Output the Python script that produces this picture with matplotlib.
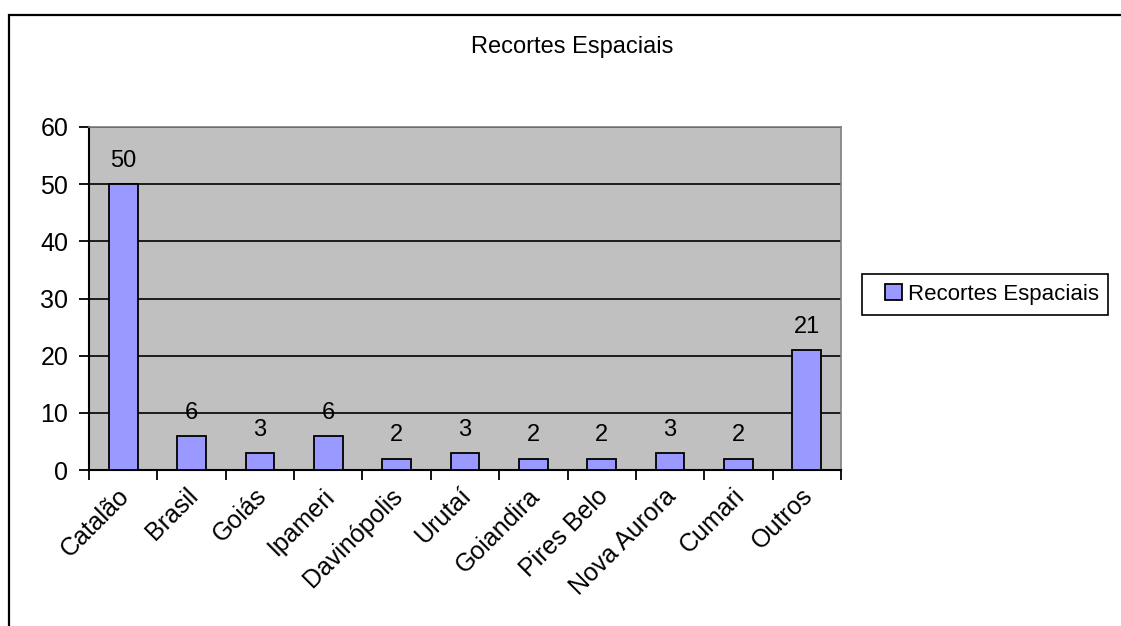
import matplotlib.pyplot as plt
import matplotlib.transforms as mtransforms
from matplotlib.patches import Rectangle

plt.rcParams['font.family'] = ['Liberation Sans', 'DejaVu Sans']

# data
categories = ['Catalão', 'Brasil', 'Goiás', 'Ipameri', 'Davinópolis', 'Urutaí',
              'Goiandira', 'Pires Belo', 'Nova Aurora', 'Cumari', 'Outros']
counts = [50, 6, 3, 6, 2, 3, 2, 2, 3, 2, 21]
yticks = [0, 10, 20, 30, 40, 50, 60]
series_name = 'Recortes Espaciais'

W, H = 1121, 626
fig = plt.figure(figsize=(W / 100, H / 100), dpi=100)

# outer chart border (runs off the right and bottom edge)
fig.patches.append(Rectangle((9 / W, -0.05), 1.2, 1 - 15 / H + 0.05,
                             transform=fig.transFigure, fill=False,
                             edgecolor='black', linewidth=1.6))

# plot area in pixels: x 89..841, y 127..470
ax = fig.add_axes([89 / W, 1 - 470 / H, (841 - 89) / W, (470 - 127) / H])
ax.set_facecolor('#C0C0C0')

xs = list(range(len(categories)))
bars = ax.bar(xs, counts, width=0.42, color='#9999FF', edgecolor='black',
              linewidth=1.3, label=series_name, zorder=3)
for x, v in zip(xs, counts):
    ax.text(x, v + 3.0, str(v), ha='center', va='baseline', fontsize=17,
            zorder=4)

ax.set_xlim(-0.5, len(categories) - 0.5)
ax.set_ylim(0, 60)
ax.set_yticks(yticks)
ax.set_yticklabels([str(t) for t in yticks], fontsize=18)
ax.yaxis.grid(True, color='black', linewidth=1.2, zorder=1)
ax.set_axisbelow(True)

# category ticks sit between bars
ax.set_xticks([x - 0.5 for x in xs] + [len(categories) - 0.5])
ax.set_xticklabels([])
ax.set_xticks(xs, minor=True)
ax.set_xticklabels(categories, minor=True, rotation=45, ha='right',
                   rotation_mode='anchor', fontsize=18)
ax.tick_params(axis='x', which='minor', length=0, pad=10)
ax.tick_params(axis='both', which='major', direction='out', length=7,
               width=1.3, color='black')
ax.tick_params(axis='y', which='major', pad=8)
shift = mtransforms.ScaledTranslation(-6 / 100, 0, fig.dpi_scale_trans)
for lbl in ax.get_xticklabels(minor=True):
    lbl.set_transform(lbl.get_transform() + shift)

ax.spines['left'].set_linewidth(1.5)
ax.spines['bottom'].set_linewidth(1.5)
ax.spines['top'].set_color('#808080')
ax.spines['right'].set_color('#808080')
ax.spines['top'].set_linewidth(1.2)
ax.spines['right'].set_linewidth(1.2)

fig.text(572 / W, 1 - 47 / H, series_name, ha='center', va='center',
         fontsize=17)

# legend: frame drawn separately to match the wide box
fig.patches.append(Rectangle((862 / W, 1 - 315 / H), (1108 - 862) / W, 41 / H,
                             transform=fig.transFigure, facecolor='white',
                             edgecolor='black', linewidth=1.2, zorder=5))
leg = fig.legend(handles=[bars], labels=[series_name], loc='center left',
                 bbox_to_anchor=(885 / W, 1 - 294.5 / H), fontsize=16,
                 frameon=False, handlelength=0.75, handleheight=0.7,
                 handletextpad=0.3, borderpad=0, borderaxespad=0)
leg.set_zorder(6)

fig.savefig('out.png', dpi=100)
